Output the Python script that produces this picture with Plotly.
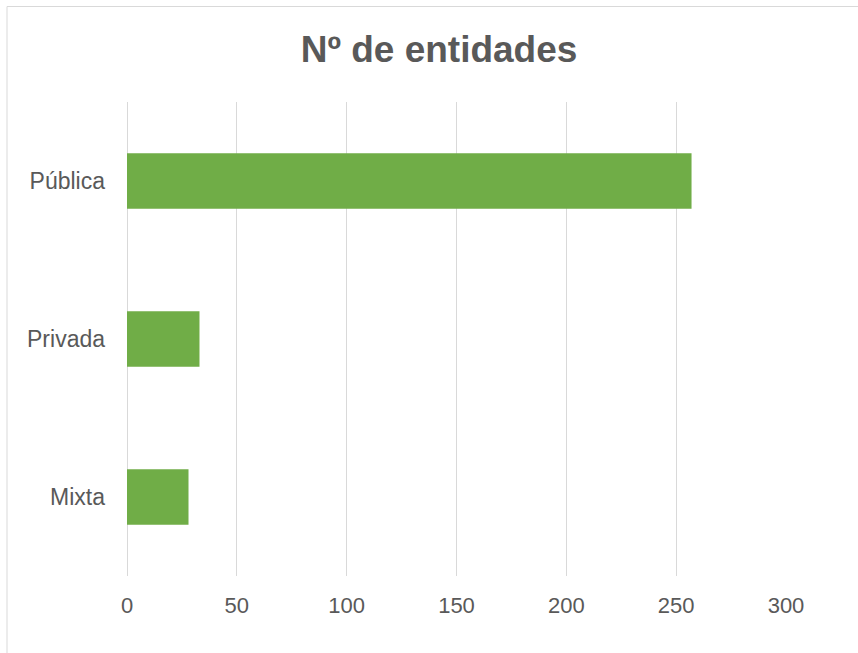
import plotly.graph_objects as go

categories = ["Pública", "Privada", "Mixta"]
values = [257, 33, 28]
x_ticks = [0, 50, 100, 150, 200, 250, 300]

W, H = 858, 653
fig = go.Figure(
    go.Bar(
        x=values,
        y=categories,
        orientation="h",
        marker=dict(color="#70AD47", line=dict(width=0)),
        hoverinfo="x+y",
    )
)

fig.update_layout(
    width=W,
    height=H,
    paper_bgcolor="white",
    plot_bgcolor="white",
    margin=dict(l=127, r=72, t=102, b=77),
    bargap=0.65,
    showlegend=False,
    font=dict(family="Liberation Sans, Arial, sans-serif", color="#595959", size=22),
    title=dict(
        text="<b>Nº de entidades</b>",
        font=dict(family="Liberation Sans, Arial, sans-serif", size=37, color="#595959"),
        x=439 / W,
        xanchor="center",
        xref="container",
        y=1 - 49 / H,
        yanchor="middle",
        yref="container",
    ),
    shapes=[
        dict(
            type="rect",
            xref="paper",
            yref="paper",
            x0=(7 - 127) / (W - 127 - 72),
            x1=(880 - 127) / (W - 127 - 72),
            y0=-(660 - 576) / (H - 102 - 77),
            y1=1 + (102 - 6.5) / (H - 102 - 77),
            line=dict(color="#D9D9D9", width=1),
            fillcolor="rgba(0,0,0,0)",
            layer="below",
        )
    ],
)

fig.update_xaxes(
    range=[0, 300],
    tickvals=x_ticks,
    showgrid=True,
    gridcolor="#D9D9D9",
    gridwidth=1,
    zeroline=True,
    zerolinecolor="#D9D9D9",
    zerolinewidth=1,
    showline=False,
    ticks="",
    ticklabelstandoff=14,
    tickfont=dict(size=22, color="#595959"),
    fixedrange=True,
)
fig.update_yaxes(
    autorange="reversed",
    showgrid=False,
    showline=False,
    ticks="",
    ticklabelstandoff=21,
    tickfont=dict(size=23, color="#595959"),
    fixedrange=True,
)

fig.write_html(
    "out.html",
    config={"displayModeBar": False},
    post_script="document.body.style.margin='0';document.body.style.padding='0';document.body.style.overflow='hidden';",
)
